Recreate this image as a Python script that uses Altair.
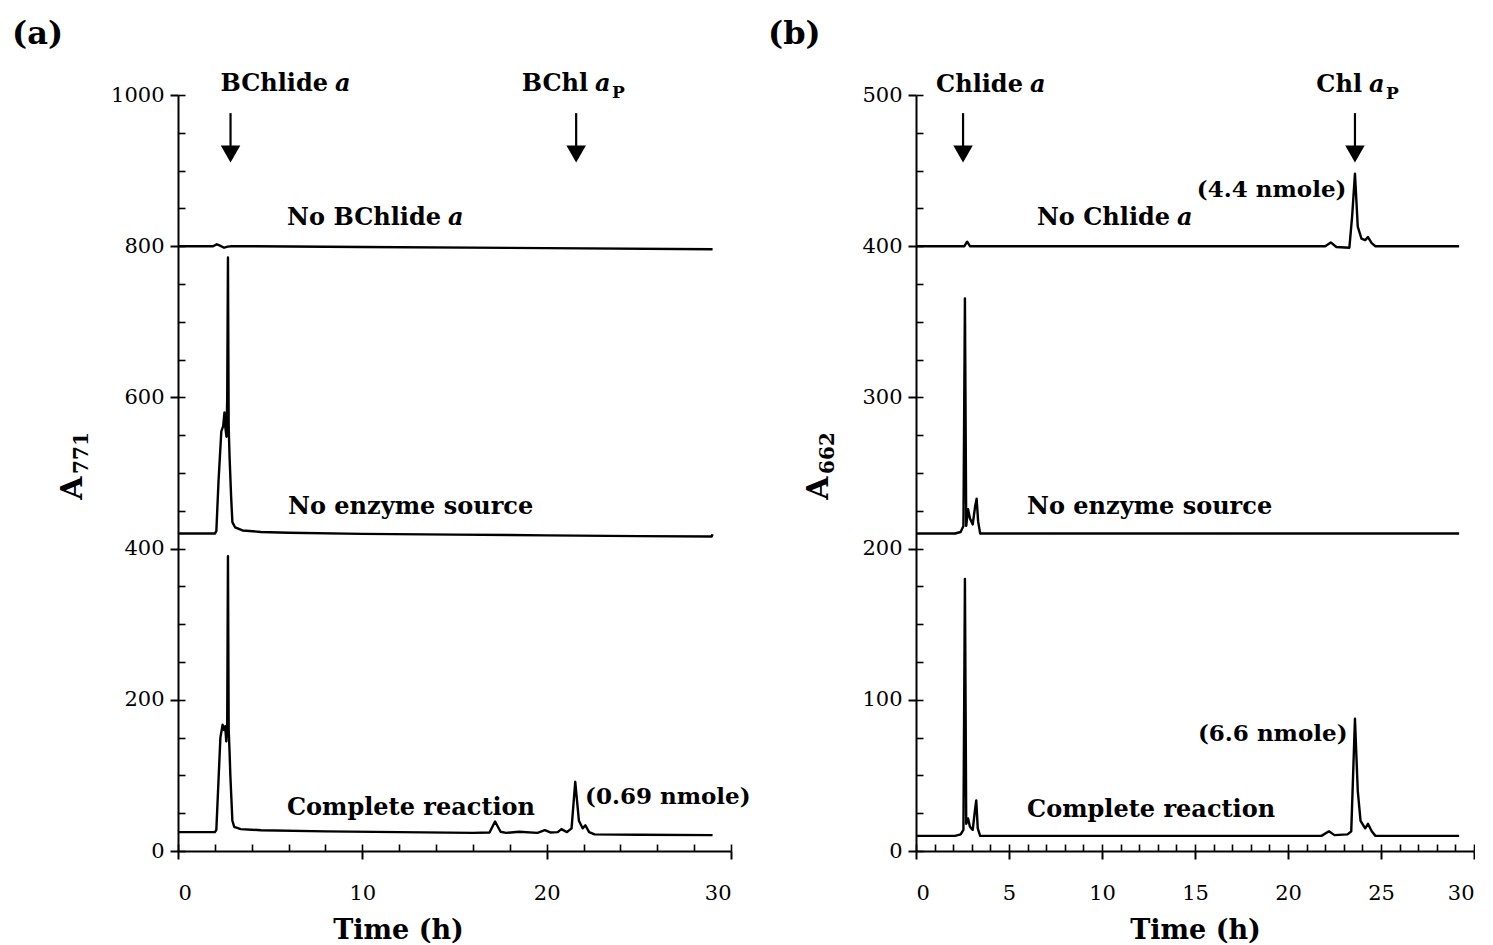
import altair as alt
import pandas as pd

FONT = "DejaVu Serif"

# ---------------- Panel (a): A771 traces ----------------
a_top_x = [0, 1.9, 2.1, 2.25, 2.5, 2.7, 2.9, 3.2, 10, 20, 29]
a_top_y = [800, 800, 802.5, 801, 798, 799.5, 800, 800, 799, 797.5, 796]

a_mid_x = [0, 2.0, 2.08, 2.2, 2.35, 2.45, 2.52, 2.57, 2.63, 2.67, 2.71, 2.75, 2.8, 2.88,
           2.95, 3.1, 3.5, 4.5, 6, 10, 15, 20, 25, 28.95, 29.0]
a_mid_y = [420, 420, 423, 490, 555, 562, 580, 560, 548, 600, 785, 560, 520, 470,
           435, 428, 424, 422, 421, 419.5, 418.5, 417.5, 416.5, 416, 419]

a_bot_x = [0, 2.0, 2.08, 2.2, 2.3, 2.42, 2.5, 2.56, 2.62, 2.67, 2.71, 2.75, 2.8, 2.84, 2.88,
           2.95, 3.05, 3.4, 4.5, 8, 12, 16, 16.9, 17.2, 17.5, 17.8, 18.5, 19.5, 19.9, 20.2,
           20.6, 20.8, 21.1, 21.35, 21.55, 21.75, 21.95, 22.1, 22.3, 22.6, 25, 29]
a_bot_y = [25, 25, 28, 95, 150, 167, 160, 165, 145, 170, 390, 160, 130, 100, 78,
           40, 32, 29, 27.5, 26, 25, 24, 24.5, 39, 25.5, 24, 25.5, 24, 27.5, 24.5,
           25, 29, 25, 30, 91.5, 40, 30, 34, 25, 22, 21.5, 21]

# ---------------- Panel (b): A662 traces ----------------
b_top_x = [0, 2.6, 2.75, 2.9, 22.0, 22.3, 22.6, 23.3, 23.45, 23.6, 23.75, 23.95, 24.15,
           24.3, 24.5, 24.7, 29.2]
b_top_y = [400, 400, 403, 400, 400, 402.5, 399.5, 399, 420, 448, 413, 405, 404,
           406, 402, 400, 400]

b_mid_x = [0, 2.1, 2.4, 2.55, 2.63, 2.7, 2.8, 2.9, 3.05, 3.18, 3.26, 3.34, 3.45, 29.2]
b_mid_y = [210, 210, 211, 215, 365.5, 215, 226, 220, 216, 228, 233, 218, 210, 210]

b_bot_x = [0, 2.1, 2.4, 2.55, 2.63, 2.7, 2.8, 2.9, 3.05, 3.18, 3.24, 3.32, 3.45, 21.8,
           22.2, 22.5, 23.2, 23.4, 23.6, 23.75, 23.9, 24.05, 24.15, 24.3, 24.5, 24.7, 29.2]
b_bot_y = [10, 10, 11, 14, 180, 18, 21.5, 16, 14, 28, 33.5, 15, 10, 10,
           13, 10.5, 11, 13, 87.5, 40, 20, 17, 15, 18, 13, 10, 10]

# ---------------- Axes ----------------
a_x_major = [0, 10, 20, 30]
a_x_minor = list(range(0, 31, 2))
a_y_major = [0, 200, 400, 600, 800, 1000]
a_y_minor = list(range(0, 1001, 50))

b_x_major = [0, 5, 10, 15, 20, 25, 30]
b_x_minor = list(range(0, 31, 1))
b_y_major = [0, 100, 200, 300, 400, 500]
b_y_minor = list(range(0, 501, 25))

# ---------------- Arrows (x, shaft top, head centre) ----------------
a_arrow_x = [2.85, 21.6]
a_arrow_top = 976
a_arrow_head = 922
b_arrow_x = [2.53, 23.6]
b_arrow_top = 488
b_arrow_head = 461

# ---------------- Annotations: (x, y, text, style, align, dx, dy) ----------------
a_texts = [
    (8.30, 1014, "BChlide", "b", "right", -3, 0),
    (8.30, 1014, "a", "bi", "left", 4, 0),
    (22.41, 1014, "BChl", "b", "right", -3, 0),
    (22.41, 1014, "a", "bi", "left", 4, 0),
    (22.41, 1014, "P", "sub", "left", 21, 9),
    (14.43, 837, "No BChlide", "b", "right", -3, 0),
    (14.43, 837, "a", "bi", "left", 4, 0),
    (5.97, 455, "No enzyme source", "b", "left", 0, 0),
    (5.91, 57, "Complete reaction", "b", "left", 0, 0),
    (22.08, 71.4, "(0.69 nmole)", "b23", "left", 0, 0),
]
b_texts = [
    (5.91, 506.6, "Chlide", "b", "right", -3, 0),
    (5.91, 506.6, "a", "bi", "left", 4, 0),
    (24.14, 506.6, "Chl", "b", "right", -3, 0),
    (24.14, 506.6, "a", "bi", "left", 4, 0),
    (24.14, 506.6, "P", "sub", "left", 21, 9),
    (13.82, 418.6, "No Chlide", "b", "right", -3, 0),
    (13.82, 418.6, "a", "bi", "left", 4, 0),
    (15.1, 437.2, "(4.4 nmole)", "b23", "left", 0, 0),
    (5.97, 227.5, "No enzyme source", "b", "left", 0, 0),
    (15.16, 77.4, "(6.6 nmole)", "b23", "left", 0, 0),
    (5.97, 27.1, "Complete reaction", "b", "left", 0, 0),
]

STYLES = {
    "b": dict(fontSize=24, fontWeight="bold"),
    "b23": dict(fontSize=23, fontWeight="bold"),
    "bi": dict(fontSize=24, fontWeight="bold", fontStyle="italic"),
    "sub": dict(fontSize=17, fontWeight="bold"),
}


def traces(series):
    rows = []
    for name, xs, ys in series:
        for x, y in zip(xs, ys):
            rows.append({"s": name, "t": x, "v": y})
    return pd.DataFrame(rows)


def panel(df, W, H, ymax, xmaj, xmin, ymaj, ymin, texts, arrow_x, arrow_top, arrow_head,
          tag, tag_x, ylab_main, ylab_sub, ytitle_x, title_x):
    xs = alt.Scale(domain=[0, 30], nice=False, zero=False)
    ys = alt.Scale(domain=[0, ymax], nice=False)
    noax_x = alt.X("t:Q", scale=xs, axis=None)
    noax_y = alt.Y("v:Q", scale=ys, axis=None)

    lines = alt.Chart(df).mark_line(color="black", strokeWidth=2.4, strokeJoin="round").encode(
        x=alt.X("t:Q", scale=xs, axis=alt.Axis(
            values=xmaj, orient="bottom", tickSize=8, tickWidth=2, tickColor="black",
            domainWidth=2, domainColor="black", labelFont=FONT, labelFontSize=21,
            labelColor="black", labelPadding=23, format="d", grid=False,
            title="Time (h)", titleFont=FONT, titleFontSize=27, titleFontWeight="bold",
            titleColor="black", titlePadding=14, titleX=title_x)),
        y=alt.Y("v:Q", scale=ys, axis=alt.Axis(
            values=ymaj, orient="left", tickSize=8, tickWidth=2, tickColor="black",
            domainWidth=2, domainColor="black", labelFont=FONT, labelFontSize=21,
            labelColor="black", labelPadding=6, format="d", grid=False, title=None)),
        detail="s:N",
    )
    inner = alt.Chart(df).mark_line(opacity=0).encode(
        x=alt.X("t:Q", scale=xs, axis=alt.Axis(
            values=xmin, orient="top", offset=-H, tickSize=7, tickWidth=1.6,
            tickColor="black", labels=False, domain=False, grid=False, title=None)),
        y=alt.Y("v:Q", scale=ys, axis=alt.Axis(
            values=ymin, orient="right", offset=-W, tickSize=7, tickWidth=1.6,
            tickColor="black", labels=False, domain=False, grid=False, title=None)),
        detail="s:N",
    )
    layers = [lines, inner]

    arr = pd.DataFrame({"t": arrow_x, "v": [arrow_top] * len(arrow_x),
                        "v2": [arrow_head] * len(arrow_x)})
    layers.append(alt.Chart(arr).mark_rule(color="black", strokeWidth=2.2).encode(
        x=noax_x, y=noax_y, y2="v2:Q"))
    layers.append(alt.Chart(arr).mark_point(
        shape="triangle-down", filled=True, color="black", opacity=1, size=380).encode(
        x=noax_x, y=alt.Y("v2:Q", scale=ys, axis=None)))

    for (x, y, txt, st, al, dx, dy) in texts:
        d = pd.DataFrame({"t": [x], "v": [y], "label": [txt]})
        layers.append(alt.Chart(d).mark_text(
            font=FONT, color="black", align=al, baseline="middle", dx=dx, dy=dy,
            **STYLES[st]).encode(x=noax_x, y=noax_y, text="label:N"))

    # panel tag and y-axis title (A with subscript)
    one = pd.DataFrame({"label": [tag]})
    layers.append(alt.Chart(one).mark_text(
        font=FONT, fontSize=32, fontWeight="bold", color="black", align="left",
        baseline="middle").encode(x=alt.value(tag_x), y=alt.value(-61), text="label:N"))
    d1 = pd.DataFrame({"label": [ylab_main]})
    layers.append(alt.Chart(d1).mark_text(
        font=FONT, fontSize=30, fontWeight="bold", color="black", angle=270,
        align="center", baseline="middle").encode(
        x=alt.value(ytitle_x), y=alt.value(393), text="label:N"))
    d2 = pd.DataFrame({"label": [ylab_sub]})
    layers.append(alt.Chart(d2).mark_text(
        font=FONT, fontSize=20, fontWeight="bold", color="black", angle=270,
        align="center", baseline="middle").encode(
        x=alt.value(ytitle_x + 9), y=alt.value(358), text="label:N"))

    return alt.layer(*layers).resolve_axis(x="independent", y="independent").properties(
        width=W, height=H)


dfa = traces([("No BChlide a", a_top_x, a_top_y),
              ("No enzyme source", a_mid_x, a_mid_y),
              ("Complete reaction", a_bot_x, a_bot_y)])
dfb = traces([("No Chlide a", b_top_x, b_top_y),
              ("No enzyme source", b_mid_x, b_mid_y),
              ("Complete reaction", b_bot_x, b_bot_y)])

left = panel(dfa, 553, 756, 1000, a_x_major, a_x_minor, a_y_major, a_y_minor, a_texts,
             a_arrow_x, a_arrow_top, a_arrow_head, "(a)", -166, "A", "771", -105, 220)
right = panel(dfb, 558, 756, 500, b_x_major, b_x_minor, b_y_major, b_y_minor, b_texts,
              b_arrow_x, b_arrow_top, b_arrow_head, "(b)", -148, "A", "662", -97, 279)

chart = alt.hconcat(left, right, spacing=17).properties(
    padding={"left": 12, "top": 18, "right": 0, "bottom": 0},
    background="white",
).configure_view(strokeWidth=0)

chart.save("out.html", embed_options={"renderer": "svg", "actions": False})
